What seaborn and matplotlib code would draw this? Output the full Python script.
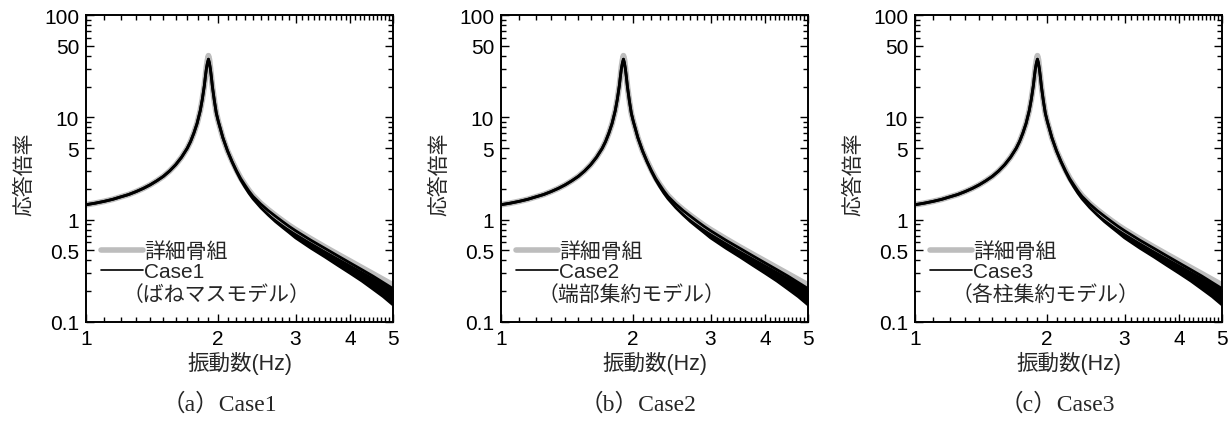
import matplotlib
matplotlib.use("Agg")
import matplotlib.pyplot as plt
import seaborn as sns
import numpy as np
from matplotlib.lines import Line2D
from matplotlib.ticker import FixedLocator, NullFormatter, LogLocator

# frequency points (Hz)
freq = [1.0, 1.05, 1.1, 1.15, 1.2, 1.25, 1.3, 1.35, 1.4, 1.45, 1.5, 1.55, 1.6, 1.65,
        1.7, 1.73, 1.76, 1.79, 1.82, 1.84, 1.86, 1.87, 1.88, 1.89, 1.9, 1.91, 1.92,
        1.93, 1.94, 1.96, 1.98, 2.0, 2.02, 2.05, 2.1, 2.15, 2.2, 2.25, 2.3, 2.35, 2.4,
        2.5, 2.6, 2.7, 2.8, 2.9, 3.0, 3.25, 3.5, 3.75, 4.0, 4.25, 4.5, 4.75, 5.0]

# detailed frame model (grey)
detail = [1.40, 1.45, 1.51, 1.58, 1.67, 1.76, 1.88, 2.02, 2.19, 2.40, 2.65, 2.99, 3.44, 4.07,
          4.98, 5.8, 7.0, 8.7, 11.6, 15.0, 20.5, 25.1, 31, 36, 40, 36.5, 30,
          24.6, 20, 14.5, 11, 9.2, 7.9, 6.3, 4.7, 3.75, 3.05, 2.55, 2.2, 1.93, 1.72,
          1.44, 1.25, 1.10, 0.98, 0.88, 0.80, 0.65, 0.54, 0.457, 0.392, 0.339, 0.296, 0.26, 0.23]

# simplified model (black): lower / upper edge of the oscillating band
model_lo = [1.40, 1.45, 1.51, 1.58, 1.67, 1.76, 1.88, 2.02, 2.19, 2.40, 2.65, 2.99, 3.44, 4.07,
            4.98, 5.8, 7.0, 8.7, 11.6, 15.0, 20.5, 25.1, 30, 34, 37, 34, 29.5,
            24.6, 20, 14.5, 11, 9.2, 7.9, 6.3, 4.7, 3.675, 2.96, 2.45, 2.09, 1.81, 1.60,
            1.31, 1.11, 0.957, 0.843, 0.748, 0.664, 0.527, 0.432, 0.356, 0.298, 0.251, 0.210, 0.177, 0.147]
model_hi = [1.40, 1.45, 1.51, 1.58, 1.67, 1.76, 1.88, 2.02, 2.19, 2.40, 2.65, 2.99, 3.44, 4.07,
            4.98, 5.8, 7.0, 8.7, 11.6, 15.0, 20.5, 25.1, 30, 34, 37, 34, 29.5,
            24.6, 20, 14.5, 11, 9.2, 7.9, 6.3, 4.7, 3.71, 3.02, 2.52, 2.18, 1.90, 1.69,
            1.42, 1.225, 1.08, 0.96, 0.86, 0.78, 0.63, 0.524, 0.441, 0.376, 0.324, 0.281, 0.243, 0.212]

cases = ["Case1", "Case2", "Case3"]
models = ["（ばねマスモデル）", "（端部集約モデル）", "（各柱集約モデル）"]
captions = ["（a）Case1", "（b）Case2", "（c）Case3"]

yticks = [0.1, 0.5, 1, 5, 10, 50, 100]
ytick_labels = ["0.1", "0.5", "1", "5", "10", "50", "100"]
xticks = [1, 2, 3, 4, 5]
xtick_labels = ["1", "2", "3", "4", "5"]

sns.set_style("ticks")
plt.rcParams["font.family"] = ["Liberation Sans", "Noto Sans CJK JP"]

W, H = 1232, 427
fig = plt.figure(figsize=(W / 100, H / 100), dpi=100)

ax_left = [86, 501, 915]
ax_w, ax_top, ax_bot = 307, 16, 323
cap_x = [219, 638, 1057]
grey = "#bdbdbd"

for i in range(3):
    ax = fig.add_axes([ax_left[i] / W, (H - ax_bot) / H, ax_w / W, (ax_bot - ax_top) / H])
    ax.set_xscale("log")
    ax.set_yscale("log")

    sns.lineplot(x=freq, y=detail, ax=ax, color=grey, lw=4.2, sort=False)
    ax.fill_between(freq, model_lo, model_hi, color="black", lw=0)
    sns.lineplot(x=freq, y=model_lo, ax=ax, color="black", lw=2.0, sort=False)
    sns.lineplot(x=freq, y=model_hi, ax=ax, color="black", lw=2.0, sort=False)

    ax.set_xlim(1, 5)
    ax.set_ylim(0.1, 100)
    ax.xaxis.set_major_locator(FixedLocator(xticks))
    ax.set_xticklabels(xtick_labels)
    ax.xaxis.set_minor_locator(FixedLocator(np.arange(1.1, 5.0, 0.1)))
    ax.xaxis.set_minor_formatter(NullFormatter())
    ax.yaxis.set_major_locator(FixedLocator(yticks))
    ax.set_yticklabels(ytick_labels)
    ax.yaxis.set_minor_locator(LogLocator(base=10, subs=np.arange(2, 10)))
    ax.yaxis.set_minor_formatter(NullFormatter())

    ax.tick_params(which="both", direction="in", top=True, right=True,
                   colors="black", labelsize=15, width=1.0)
    ax.tick_params(which="major", length=6, pad=5)
    ax.tick_params(which="minor", length=3.5)
    for s in ax.spines.values():
        s.set_linewidth(1.4)
        s.set_color("black")

    ax.set_xlabel("振動数(Hz)", fontsize=15.5, va="center")
    ax.xaxis.set_label_coords(0.5, -(363 - ax_bot) / ax_w)
    ax.set_ylabel("応答倍率", fontsize=15, va="center")
    ax.yaxis.set_label_coords(-(86 - 24) / ax_w, 0.484)

    handles = [Line2D([], [], color=grey, lw=4), Line2D([], [], color="black", lw=1.2)]
    ax.legend(handles, ["詳細骨組", cases[i]], loc="upper left",
              bbox_to_anchor=(0.049, 0.263), frameon=False, fontsize=15,
              borderpad=0, borderaxespad=0, handlelength=2.0, handletextpad=0.05,
              labelspacing=0.05)
    ax.text(0.12, 0.092, models[i], transform=ax.transAxes, fontsize=15,
            ha="left", va="center", family=["Noto Sans CJK JP"])

    fig.text(cap_x[i] / W, (H - 405) / H, captions[i], fontsize=17, ha="center",
             va="center", family=["Liberation Serif", "Noto Sans CJK JP"])

fig.savefig("out.png", dpi=100)
